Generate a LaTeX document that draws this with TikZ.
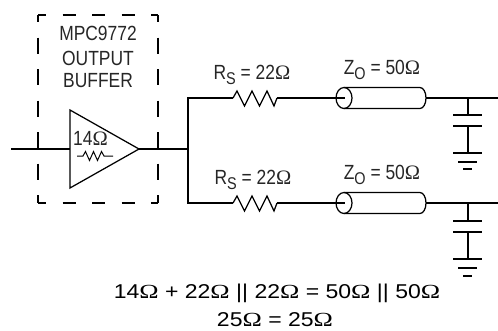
\documentclass[tikz,border=0pt]{standalone}
\usepackage{fontspec}
\setmainfont{Liberation Sans}
\newfontfamily\narrowfont[FakeStretch=0.85]{Liberation Sans}
\newfontfamily\widefont[FakeStretch=1.15]{Liberation Sans}
\newfontfamily\ohmfont{Liberation Serif}
\newfontfamily\wideohmfont[FakeStretch=1.3]{Liberation Serif}
\newcommand{\ohm}{{\ohmfont Ω}}
\newcommand{\wideohm}{{\wideohmfont Ω}}
\newcommand{\lowsub}[1]{\raisebox{-0.45ex}{\fontsize{17}{17}\selectfont #1}}
\tikzset{
	wire/.style={line width=1.25pt},
	thin wire/.style={line width=1pt},
	dash wire/.style={line width=1.25pt, dash pattern=on 13pt off 16.5pt, dash phase=5pt},
	dash side/.style={line width=1.25pt, dash pattern=on 16pt off 15.5pt, dash phase=9pt},
	label/.style={inner sep=0pt, font=\narrowfont\fontsize{20.5}{20.5}\selectfont, text=black!85},
	formula/.style={inner sep=0pt, font=\widefont\fontsize{20}{20}\selectfont}
}
\begin{document}
\begin{tikzpicture}[x=1pt,y=-1pt]
	\useasboundingbox (0,0) rectangle (498,330);
	
	%output buffer
	\draw[dash wire] (38,15) -- (158,15);
	\draw[dash side] (158,15) -- (158,203);
	\draw[dash side] (38,15) -- (38,203);
	\draw[dash wire] (38,203) -- (158,203);
	\node[label] (title) at (98,33) {MPC9772};
	\node[label] (titleb) at (98,58) {OUTPUT};
	\node[label] (titlec) at (98,81) {BUFFER};
	
	\coordinate (in) at (11,149);
	\coordinate (bufin) at (70,149);
	\coordinate (bufout) at (139,149);
	\coordinate (split) at (188,149);
	\draw[wire] (70,110) -- (bufout) -- (70,188) -- cycle;
	\node[label] (rbuf) at (90.5,138) {14\ohm};
	\draw[thin wire] (77,156) -- ++(6,0) -- ++(2.5,-4.5) -- ++(4,9) -- ++(4,-9)
		-- ++(4,9) -- ++(4,-9) -- ++(2.5,4.5) -- (113,156);
	\draw[wire] (in) -- (bufin);
	\draw[wire] (bufout) -- (split);
	
	%upper line
	\coordinate (topl) at (188,98);
	\coordinate (rsa) at (233,98);
	\coordinate (rsb) at (277,98);
	\coordinate (zoa) at (345,98);
	\coordinate (zob) at (426,98);
	\coordinate (enda) at (498,98);
	\coordinate (tapa) at (468,98);
	\coordinate (capa) at (468,115);
	\coordinate (capb) at (468,126);
	\coordinate (gnda) at (468,153);
	\node[label] (rsup) at (252,75) {R\lowsub{S} = 22\ohm};
	\node[label] (zoup) at (382,70) {Z\lowsub{O} = 50\ohm};
	\draw[wire] (split) -- (topl) -- (rsa);
	\draw[wire] (rsa) -- ++(4,-7) -- ++(7.5,15) -- ++(7.5,-15) -- ++(7.5,15)
		-- ++(7.5,-15) -- ++(7,15) -- (rsb);
	\draw[wire] (rsb) -- (zoa);
	\draw[wire] (344,98) ellipse [x radius=8, y radius=10.5];
	\draw[wire] (344,87.5) -- (420,87.5) arc [start angle=90, end angle=-90, x radius=6, y radius=-10.5] -- (344,108.5);
	\draw[wire] (zob) -- (enda);
	\draw[wire] (tapa) -- (capa);
	\draw[wire] (capb) -- (gnda);
	\draw[wire] (453,115) -- (482,115);
	\draw[wire] (453,126) -- (482,126);
	\draw[wire] (453,153) -- (482,153);
	\draw[wire] (458,162) -- (477,162);
	\draw[wire] (463,169) -- (472,169);
	
	%lower line
	\coordinate (botl) at (188,203);
	\coordinate (rsc) at (233,203);
	\coordinate (rsd) at (277,203);
	\coordinate (zoc) at (345,203);
	\coordinate (zod) at (426,203);
	\coordinate (endb) at (498,203);
	\coordinate (tapb) at (468,203);
	\coordinate (capc) at (468,221);
	\coordinate (capd) at (468,232);
	\coordinate (gndb) at (468,259);
	\node[label] (rsdown) at (253,180) {R\lowsub{S} = 22\ohm};
	\node[label] (zodown) at (382,175) {Z\lowsub{O} = 50\ohm};
	\draw[wire] (split) -- (botl) -- (rsc);
	\draw[wire] (rsc) -- ++(4,-7) -- ++(7.5,15) -- ++(7.5,-15) -- ++(7.5,15)
		-- ++(7.5,-15) -- ++(7,15) -- (rsd);
	\draw[wire] (rsd) -- (zoc);
	\draw[wire] (344,203) ellipse [x radius=8, y radius=10.5];
	\draw[wire] (344,192.5) -- (420,192.5) arc [start angle=90, end angle=-90, x radius=6, y radius=-10.5] -- (344,213.5);
	\draw[wire] (zod) -- (endb);
	\draw[wire] (tapb) -- (capc);
	\draw[wire] (capd) -- (gndb);
	\draw[wire] (453,221) -- (482,221);
	\draw[wire] (453,232) -- (482,232);
	\draw[wire] (453,259) -- (482,259);
	\draw[wire] (458,268) -- (477,268);
	\draw[wire] (463,276) -- (472,276);
	
	\node[formula] (sum) at (277,293) {14\wideohm{} + 22\wideohm{} || 22\wideohm{} = 50\wideohm{} || 50\wideohm};
	\node[formula] (result) at (275,319.5) {25\wideohm{} = 25\wideohm};
\end{tikzpicture}
\end{document}
